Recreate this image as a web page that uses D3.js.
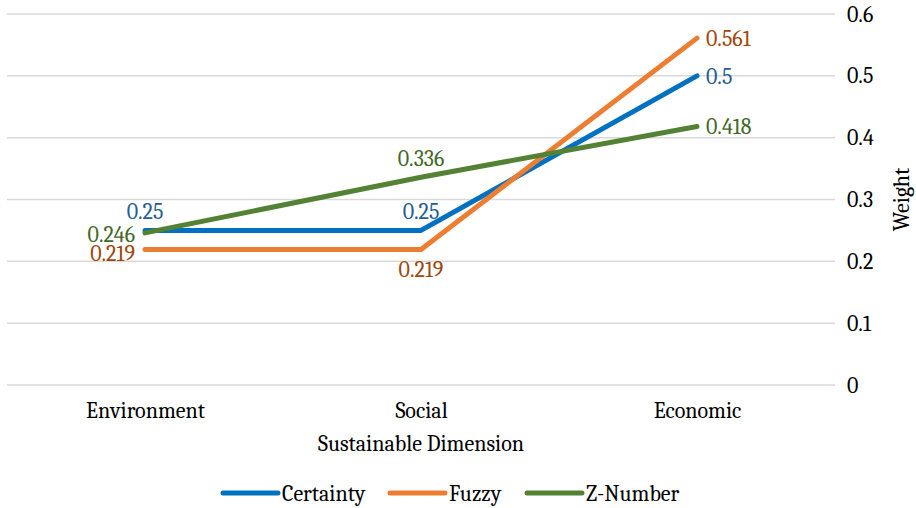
<!DOCTYPE html>
<html>
<head>
<meta charset="utf-8">
<script src="https://cdn.jsdelivr.net/npm/d3@7"></script>
<style>
  body { margin: 0; background: #fff; }
  text { font-family: Cambria, Caladea, "Liberation Serif", "DejaVu Serif", serif; }
</style>
</head>
<body>
<svg width="916" height="508"></svg>
<script>
const categories = ['Environment', 'Social', 'Economic'];
const seriesNames = ['Certainty', 'Fuzzy', 'Z-Number'];
const certainty = [0.25, 0.25, 0.5];
const fuzzy = [0.219, 0.219, 0.561];
const zNumber = [0.246, 0.336, 0.418];
const yTicks = [0, 0.1, 0.2, 0.3, 0.4, 0.5, 0.6];

// label placement per point (left / above / below / right)
const labelPlace = [
  ['above', 'above', 'right'],
  ['left', 'below', 'right'],
  ['left', 'above', 'right']
];

const lineColors = ['#0070C0', '#ED7D31', '#548235'];
const labelColors = ['#255E91', '#9E480E', '#43682B'];
const fontSize = 22;

const svg = d3.select('svg');
const margin = { top: 14, right: 81, bottom: 123, left: 7 };
const width = +svg.attr('width') - margin.left - margin.right;
const height = +svg.attr('height') - margin.top - margin.bottom;
const g = svg.append('g').attr('transform', `translate(${margin.left},${margin.top})`);

const x = d3.scalePoint().domain(categories).range([0, width]).padding(0.5);
const y = d3.scaleLinear().domain([0, 0.6]).range([height, 0]);

// Gridlines
g.append('g')
  .selectAll('line')
  .data(yTicks)
  .enter()
  .append('line')
  .attr('x1', 0)
  .attr('x2', width)
  .attr('y1', d => y(d))
  .attr('y2', d => y(d))
  .attr('stroke', '#d9d9d9')
  .attr('stroke-width', 1.5);

// Right axis
const yAxis = g.append('g')
  .attr('transform', `translate(${width},0)`)
  .call(d3.axisRight(y).tickValues(yTicks).tickFormat(d => d === 0 ? '0' : d3.format('.1f')(d)).tickSize(0).tickPadding(12));
yAxis.select('.domain').remove();
yAxis.attr('font-family', null);
yAxis.selectAll('text')
  .attr('font-size', fontSize)
  .attr('fill', '#000');

svg.append('text')
  .attr('transform', `translate(902,${margin.top + y(0.3)}) rotate(-90)`)
  .attr('text-anchor', 'middle')
  .attr('dy', '0.32em')
  .attr('font-size', fontSize)
  .text('Weight');

// X axis
const xAxis = g.append('g')
  .attr('transform', `translate(0,${height})`)
  .call(d3.axisBottom(x).tickSize(0).tickPadding(17));
xAxis.select('.domain').remove();
xAxis.attr('font-family', null);
xAxis.selectAll('text')
  .attr('font-size', fontSize)
  .attr('fill', '#000');

svg.append('text')
  .attr('x', margin.left + x('Social'))
  .attr('y', 443)
  .attr('dy', '0.35em')
  .attr('text-anchor', 'middle')
  .attr('font-size', fontSize)
  .text('Sustainable Dimension');

// Lines
const series = [certainty, fuzzy, zNumber];
const line = d3.line().x((d, i) => x(categories[i])).y(d => y(d));

series.forEach((vals, s) => {
  g.append('path')
    .datum(vals)
    .attr('d', line)
    .attr('fill', 'none')
    .attr('stroke', lineColors[s])
    .attr('stroke-width', 5)
    .attr('stroke-linecap', 'round')
    .attr('stroke-linejoin', 'round');
});

// Data labels
series.forEach((vals, s) => {
  g.append('g')
    .selectAll('text')
    .data(vals)
    .enter()
    .append('text')
    .attr('font-size', fontSize)
    .attr('fill', labelColors[s])
    .attr('x', (d, i) => {
      const p = labelPlace[s][i];
      const cx = x(categories[i]);
      if (p === 'left') return cx - 10;
      if (p === 'right') return cx + 9;
      return cx;
    })
    .attr('y', (d, i) => {
      const p = labelPlace[s][i];
      const cy = y(d);
      if (p === 'above') return cy - 19;
      if (p === 'below') return cy + 20;
      if (p === 'left') return cy + (s === 1 ? 4 : 1);
      return cy;
    })
    .attr('dy', '0.35em')
    .attr('text-anchor', (d, i) => {
      const p = labelPlace[s][i];
      if (p === 'left') return 'end';
      if (p === 'right') return 'start';
      return 'middle';
    })
    .text(d => d);
});

// Legend
const legendX = [223, 390, 527];
const legend = svg.append('g').attr('transform', 'translate(0,493)');
seriesNames.forEach((name, s) => {
  legend.append('line')
    .attr('x1', legendX[s])
    .attr('x2', legendX[s] + 55)
    .attr('stroke', lineColors[s])
    .attr('stroke-width', 5)
    .attr('stroke-linecap', 'round');
  legend.append('text')
    .attr('x', legendX[s] + 59)
    .attr('dy', '0.35em')
    .attr('font-size', fontSize)
    .text(name);
});
</script>
</body>
</html>
